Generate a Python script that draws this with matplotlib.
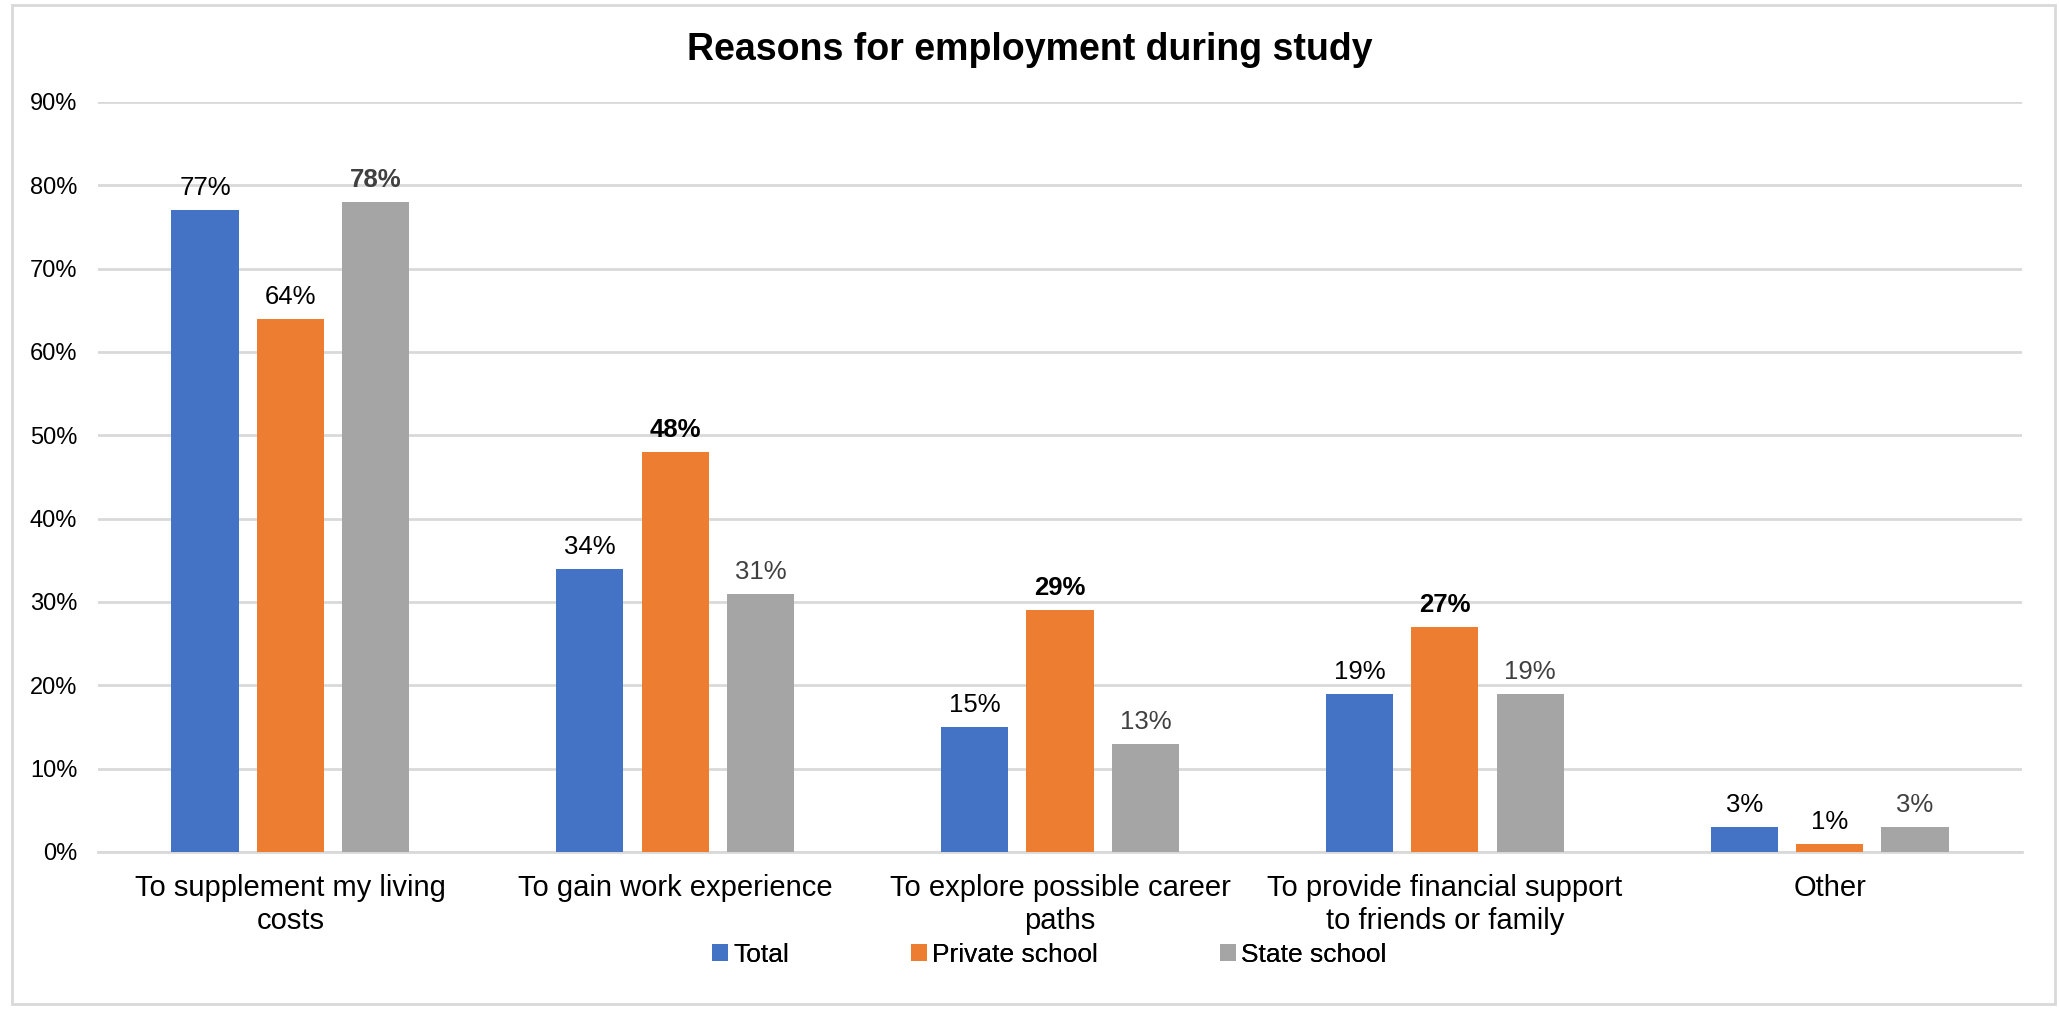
import matplotlib
matplotlib.use("Agg")
import matplotlib.pyplot as plt
from matplotlib.patches import Rectangle
import numpy as np

plt.rcParams['font.family'] = ['Liberation Sans', 'DejaVu Sans']

categories = ["To supplement my living\ncosts", "To gain work experience",
              "To explore possible career\npaths", "To provide financial support\nto friends or family", "Other"]
series_names = ["Total", "Private school", "State school"]
total = [77, 34, 15, 19, 3]
private = [64, 48, 29, 27, 1]
state = [78, 31, 13, 19, 3]
yticks = [0, 10, 20, 30, 40, 50, 60, 70, 80, 90]

colors = ["#4472C4", "#ED7D31", "#A5A5A5"]
label_colors = ["#000000", "#000000", "#404040"]
bold_private = [False, True, True, True, False]
bold_state = [True, False, False, False, False]
bold_total = [False] * 5

fig = plt.figure(figsize=(20.59, 10.09), dpi=100)
ax = fig.add_axes([98/2059, 1 - 852/1009, (2022-98)/2059, (852-102)/1009])

x = np.arange(len(categories))
w = 0.175
off = 0.222
handles = []
for i, (vals, bolds) in enumerate([(total, bold_total), (private, bold_private), (state, bold_state)]):
    bars = ax.bar(x + (i - 1) * off, vals, width=w, color=colors[i], label=series_names[i], zorder=3)
    handles.append(bars)
    for b, v, bd in zip(bars, vals, bolds):
        ax.text(b.get_x() + b.get_width() / 2, v + 1.2, f"{v}%", ha='center', va='bottom',
                fontsize=18.5, color=label_colors[i], fontweight='bold' if bd else 'normal')

ax.set_xlim(-0.5, 4.5)
ax.set_ylim(0, 90)
ax.set_yticks(yticks)
ax.set_yticklabels([f"{t}%" for t in yticks], fontsize=17, color="#000000")
ax.set_xticks(x)
ax.set_xticklabels(categories, fontsize=21, linespacing=1.2)
ax.tick_params(axis='x', length=0, pad=16)
ax.tick_params(axis='y', length=0, pad=15)
ax.grid(axis='y', color="#D9D9D9", linewidth=2, zorder=0)
for s in ['top', 'right', 'left']:
    ax.spines[s].set_visible(False)
ax.spines['bottom'].set_color("#D9D9D9")
ax.spines['bottom'].set_linewidth(2)

fig.text(0.5, 1 - 50/1009, "Reasons for employment during study", ha='center', va='center',
         fontsize=27, fontweight='bold')

leg_x = [712, 911, 1220]
for h, name, lx in zip(handles, series_names, leg_x):
    lg = fig.legend([h], [name], loc='center left', bbox_to_anchor=(lx/2059, 1 - 955/1009),
                    frameon=False, fontsize=19, handlelength=0.6, handleheight=0.6,
                    handletextpad=0.2, borderpad=0, borderaxespad=0)
    fig.add_artist(lg)

fig.patches.append(Rectangle((12/2059, 5/1009), 1 - 16/2059, 1 - 10/1009, transform=fig.transFigure,
                             fill=False, edgecolor="#D9D9D9", linewidth=2))

fig.savefig("out.png", dpi=100)
